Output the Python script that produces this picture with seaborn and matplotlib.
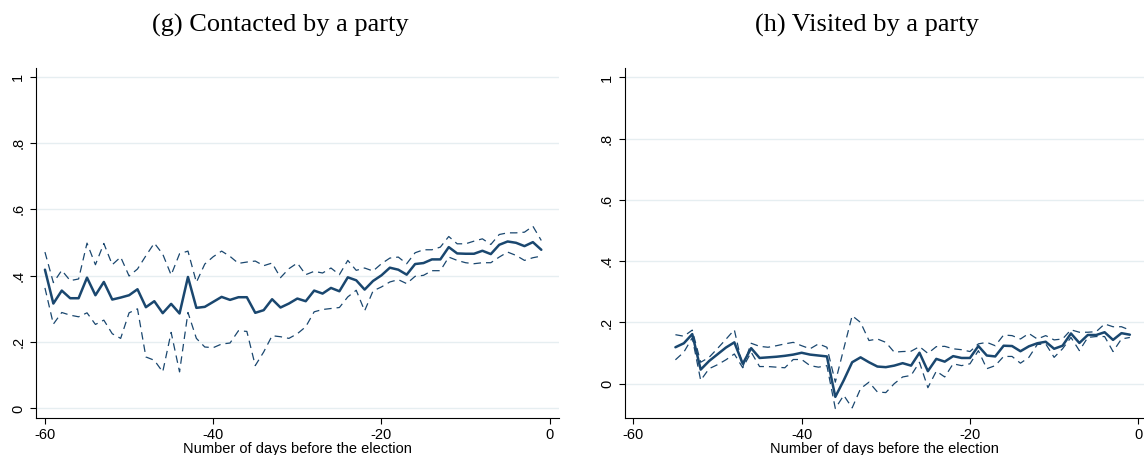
import seaborn as sns
import matplotlib
matplotlib.use('Agg')
import matplotlib.pyplot as plt
import numpy as np
import pandas as pd

# panel (g): contacted by a party, days -60 .. -1
days_g = np.arange(-60, 0)
mean_g = [0.418, 0.316, 0.355, 0.332, 0.332, 0.394, 0.341, 0.381, 0.328, 0.334,
          0.341, 0.359, 0.305, 0.323, 0.287, 0.315, 0.286, 0.396, 0.303, 0.306,
          0.321, 0.336, 0.327, 0.335, 0.335, 0.288, 0.296, 0.329, 0.304, 0.316,
          0.331, 0.323, 0.355, 0.346, 0.363, 0.353, 0.395, 0.386, 0.358, 0.384,
          0.401, 0.424, 0.418, 0.403, 0.435, 0.438, 0.449, 0.449, 0.486, 0.467,
          0.466, 0.466, 0.475, 0.465, 0.493, 0.503, 0.499, 0.489, 0.501, 0.478]
upper_g = [0.471, 0.379, 0.416, 0.385, 0.390, 0.498, 0.433, 0.497, 0.433, 0.456,
           0.399, 0.420, 0.460, 0.498, 0.465, 0.402, 0.466, 0.474, 0.380, 0.435,
           0.457, 0.474, 0.458, 0.437, 0.441, 0.444, 0.430, 0.438, 0.394, 0.421,
           0.438, 0.403, 0.413, 0.408, 0.423, 0.403, 0.446, 0.416, 0.423, 0.414,
           0.436, 0.453, 0.456, 0.436, 0.469, 0.478, 0.478, 0.486, 0.518, 0.496,
           0.496, 0.504, 0.511, 0.494, 0.524, 0.529, 0.529, 0.531, 0.549, 0.506]
lower_g = [0.363, 0.254, 0.289, 0.281, 0.276, 0.288, 0.253, 0.266, 0.225, 0.211,
           0.288, 0.300, 0.155, 0.145, 0.110, 0.229, 0.110, 0.289, 0.211, 0.185,
           0.183, 0.194, 0.197, 0.234, 0.232, 0.129, 0.170, 0.219, 0.216, 0.211,
           0.225, 0.246, 0.291, 0.298, 0.301, 0.304, 0.336, 0.356, 0.294, 0.354,
           0.366, 0.381, 0.388, 0.376, 0.398, 0.401, 0.415, 0.415, 0.456, 0.446,
           0.439, 0.436, 0.439, 0.439, 0.456, 0.471, 0.461, 0.446, 0.454, 0.459]

# panel (h): visited by a party, days -55 .. -1
days_h = np.arange(-55, 0)
mean_h = [0.119, 0.132, 0.162, 0.046, 0.074, 0.096, 0.118, 0.135, 0.065, 0.116,
          0.084, 0.086, 0.088, 0.091, 0.095, 0.101, 0.095, 0.092, 0.089, -0.043,
          0.011, 0.070, 0.086, 0.070, 0.056,
          0.054, 0.059, 0.067, 0.059, 0.101, 0.041, 0.081, 0.072, 0.090, 0.084,
          0.084, 0.123, 0.092, 0.089, 0.124, 0.123, 0.106, 0.122, 0.132, 0.137,
          0.114, 0.124, 0.164, 0.133, 0.159, 0.159, 0.168, 0.143, 0.165, 0.160]
upper_h = [0.160, 0.155, 0.175, 0.070, 0.086, 0.115, 0.145, 0.176, 0.054, 0.132,
           0.122, 0.119, 0.124, 0.130, 0.135, 0.124, 0.114, 0.130, 0.119, 0.005,
           0.114, 0.222, 0.200, 0.141, 0.146,
           0.135, 0.103, 0.105, 0.106, 0.121, 0.099, 0.121, 0.122, 0.114, 0.111,
           0.105, 0.130, 0.135, 0.124, 0.159, 0.157, 0.146, 0.164, 0.146, 0.157,
           0.143, 0.146, 0.176, 0.168, 0.168, 0.170, 0.195, 0.186, 0.186, 0.175]
lower_h = [0.078, 0.103, 0.150, 0.011, 0.049, 0.062, 0.078, 0.097, 0.052, 0.103,
           0.056, 0.056, 0.054, 0.052, 0.079, 0.079, 0.059, 0.054, 0.059, -0.081,
           -0.038, -0.079, -0.016, 0.005, -0.027,
           -0.029, 0.000, 0.022, 0.027, 0.070, -0.013, 0.041, 0.022, 0.065, 0.059,
           0.065, 0.108, 0.049, 0.059, 0.089, 0.089, 0.067, 0.086, 0.128, 0.130,
           0.086, 0.114, 0.151, 0.108, 0.151, 0.154, 0.154, 0.105, 0.146, 0.151]

y_ticks = [0, 0.2, 0.4, 0.6, 0.8, 1]
y_labels = ['0', '.2', '.4', '.6', '.8', '1']
x_ticks = [-60, -40, -20, 0]

sns.set_style('white')
plt.rcParams['font.family'] = ['Liberation Sans', 'DejaVu Sans']
plt.rcParams['text.color'] = 'black'
plt.rcParams['axes.labelcolor'] = 'black'
plt.rcParams['xtick.color'] = 'black'
plt.rcParams['ytick.color'] = 'black'

navy = '#1a476f'
grid_col = '#e6eef1'

fig = plt.figure(figsize=(11.44, 4.55), dpi=100)
ax_g = fig.add_axes([0.0312, 0.082, 0.4574, 0.768])
ax_h = fig.add_axes([0.5459, 0.082, 0.4541, 0.768])

# title centres sit over the whole graph region, not just the plot area
panels = [
    (ax_g, days_g, mean_g, upper_g, lower_g, '(g) Contacted by a party', 280,
     (-61.1, 1.1), (-0.028, 1.025)),
    (ax_h, days_h, mean_h, upper_h, lower_h, '(h) Visited by a party', 867,
     (-61.05, 0.68), (-0.111, 1.03)),
]

for ax, days, mean, upper, lower, title, title_x, xlim, ylim in panels:
    df = pd.DataFrame({'day': days, 'mean': mean, 'upper': upper, 'lower': lower})
    for yv in y_ticks:
        ax.axhline(yv, color=grid_col, linewidth=1.0, zorder=0)
    sns.lineplot(data=df, x='day', y='upper', ax=ax, color=navy,
                 linewidth=0.9, zorder=2)
    sns.lineplot(data=df, x='day', y='lower', ax=ax, color=navy,
                 linewidth=0.9, zorder=2)
    for ln in ax.lines[-2:]:
        ln.set_dashes((6, 4))
    sns.lineplot(data=df, x='day', y='mean', ax=ax, color=navy,
                 linewidth=1.8, zorder=3)

    ax.set_xlim(*xlim)
    ax.set_ylim(*ylim)
    ax.set_xticks(x_ticks)
    ax.set_xticklabels([str(t) for t in x_ticks], fontsize=10.5)
    ax.set_yticks(y_ticks)
    ax.set_yticklabels(y_labels, fontsize=10.5, rotation=90, va='center')
    ax.tick_params(axis='both', direction='out', length=4.5, width=0.8,
                   color='black', pad=3, left=True, bottom=True)
    ax.set_xlabel('Number of days before the election', fontsize=10.5, labelpad=0)
    ax.set_ylabel('')
    fig.text(title_x / 1144, 1 - 25.5 / 455, title, fontsize=19, color='black',
             family=['Liberation Serif', 'DejaVu Serif'], ha='center', va='center')
    sns.despine(ax=ax)
    for side in ['left', 'bottom']:
        ax.spines[side].set_color('black')
        ax.spines[side].set_linewidth(0.8)

plt.savefig('out.png', dpi=100)
